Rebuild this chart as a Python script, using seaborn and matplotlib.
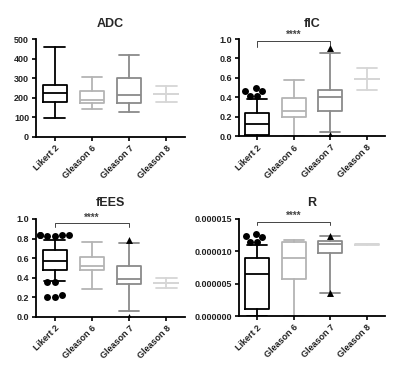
import numpy as np
import matplotlib
matplotlib.use("Agg")
import matplotlib.pyplot as plt
from matplotlib.ticker import FuncFormatter
import seaborn as sns

groups = ["Likert 2", "Gleason 6", "Gleason 7", "Gleason 8"]
group_colors = ["#000000", "#b4b4b4", "#8a8a8a", "#d6d6d6"]

# box stats per panel: whislo, q1, med, q3, whishi
adc_stats = [
    [97, 177, 224, 266, 457],
    [145, 171, 188, 235, 304],
    [125, 171, 215, 302, 416],
    [179, 218, 218, 218, 258],
]
fic_stats = [
    [0.0, 0.014, 0.12, 0.24, 0.38],
    [0.0, 0.20, 0.261, 0.392, 0.574],
    [0.038, 0.258, 0.405, 0.48, 0.852],
    [0.48, 0.59, 0.59, 0.59, 0.70],
]
fees_stats = [
    [0.365, 0.48, 0.57, 0.68, 0.785],
    [0.28, 0.478, 0.519, 0.614, 0.768],
    [0.061, 0.331, 0.389, 0.522, 0.75],
    [0.29, 0.341, 0.341, 0.341, 0.396],
]
r_stats = [
    [0.0, 1.03e-6, 6.44e-6, 9.0e-6, 10.97e-6],
    [0.0, 5.8e-6, 9.0e-6, 11.4e-6, 11.75e-6],
    [3.6e-6, 9.7e-6, 11.1e-6, 11.6e-6, 12.3e-6],
    [11.08e-6, 10.95e-6, 11.08e-6, 11.2e-6, 11.08e-6],
]

# outliers (Likert 2 as dots, Gleason 7 as triangles)
fic_likert_out = [0.46, 0.50, 0.46, 0.41, 0.41]
fic_g7_out = [0.91, 0.01]
fees_likert_out = [0.84, 0.84, 0.83, 0.84, 0.83, 0.84, 0.354, 0.354, 0.22, 0.20, 0.20]
fees_g7_out = [0.79, 0.0]
r_likert_out = [12.4e-6, 12.7e-6, 12.26e-6, 11.5e-6, 11.5e-6]
r_g7_out = [12.3e-6, 3.5e-6]

panels = [
    dict(title="ADC", stats=adc_stats, ylim=(0, 500), yticks=[0, 100, 200, 300, 400, 500],
         fmt="{:.0f}", dots=[], tris=[], bracket=None),
    dict(title="fIC", stats=fic_stats, ylim=(0, 1.0), yticks=[0, 0.2, 0.4, 0.6, 0.8, 1.0],
         fmt="{:.1f}", dots=fic_likert_out, tris=fic_g7_out, bracket=(0.98, 0.92, 0.94)),
    dict(title="fEES", stats=fees_stats, ylim=(0, 1.0), yticks=[0, 0.2, 0.4, 0.6, 0.8, 1.0],
         fmt="{:.1f}", dots=fees_likert_out, tris=fees_g7_out, bracket=(0.955, 0.92, 0.92)),
    dict(title="R", stats=r_stats, ylim=(0, 15e-6), yticks=[0, 5e-6, 10e-6, 15e-6],
         fmt="{:.6f}", dots=r_likert_out, tris=r_g7_out, bracket=(14.6e-6, 14.1e-6, 14.1e-6)),
]

sns.set_style("ticks")
plt.rcParams["font.family"] = ["Liberation Sans", "DejaVu Sans"]
plt.rcParams["font.weight"] = "bold"

fig = plt.figure(figsize=(4.0, 3.65), dpi=100)
rects = [
    [0.09, 0.625, 0.3725, 0.268],
    [0.5975, 0.627, 0.365, 0.266],
    [0.09, 0.132, 0.3725, 0.268],
    [0.5975, 0.134, 0.365, 0.266],
]

for rect, p in zip(rects, panels):
    ax = fig.add_axes(rect)
    for i, (s, c) in enumerate(zip(p["stats"], group_colors)):
        st = dict(whislo=s[0], q1=s[1], med=s[2], q3=s[3], whishi=s[4], fliers=[])
        lp = dict(color=c, linewidth=1.3)
        ax.bxp([st], positions=[i], widths=0.65, capwidths=0.55, showfliers=False,
               boxprops=lp, medianprops=lp, whiskerprops=lp, capprops=lp,
               manage_ticks=False)
    if p["dots"]:
        sns.swarmplot(x=["Likert 2"] * len(p["dots"]), y=p["dots"], order=groups,
                      color="black", size=5, marker="o", ax=ax)
    if p["tris"]:
        sns.stripplot(x=["Gleason 7"] * len(p["tris"]), y=p["tris"], order=groups,
                      color="black", size=5, marker="^", jitter=False, ax=ax)
    if p["bracket"]:
        top, left_end, right_end = p["bracket"]
        ax.plot([0, 0, 2, 2], [left_end, top, top, right_end], color="#444444",
                linewidth=0.7, clip_on=False)
        ax.text(1, top + (p["ylim"][1] * 0.01), "****", ha="center", va="bottom",
                fontsize=7, color="#444444")
    ax.set_xlim(-0.5, 3.5)
    ax.set_ylim(*p["ylim"])
    ax.set_yticks(p["yticks"])
    f = p["fmt"]
    ax.yaxis.set_major_formatter(FuncFormatter(lambda v, pos, f=f: f.format(v)))
    ax.set_xticks(range(len(groups)))
    ax.set_xticklabels(groups, rotation=45, ha="right", rotation_mode="anchor")
    ax.tick_params(axis="both", labelsize=6.5, length=3, width=1.2, colors="black",
                   labelcolor="#222222", pad=2)
    for lab in ax.get_xticklabels() + ax.get_yticklabels():
        lab.set_fontweight("bold")
    ax.set_xlabel("")
    ax.set_ylabel("")
    for sp in ["left", "bottom"]:
        ax.spines[sp].set_linewidth(1.3)
        ax.spines[sp].set_color("black")
    sns.despine(ax=ax)
    ax.set_title(p["title"], fontsize=9, fontweight="bold", pad=9)

fig.savefig("out.png", dpi=100)
